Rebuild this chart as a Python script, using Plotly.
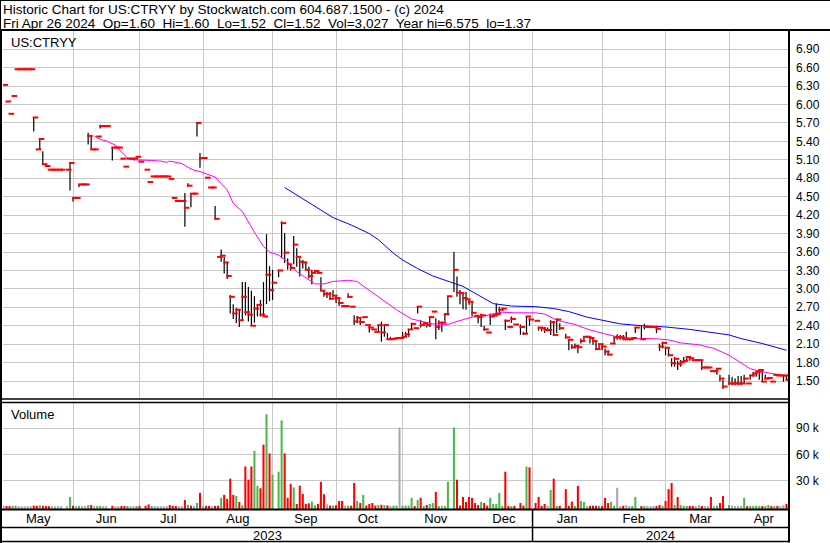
import pandas as pd
import plotly.graph_objects as go

# ---------------- data ----------------
holidays = ["2023-05-29", "2023-06-19", "2023-07-04", "2023-09-04", "2023-11-23",
            "2023-12-25", "2024-01-01", "2024-01-15", "2024-02-19", "2024-03-29"]
trade_days = [d for d in pd.bdate_range("2023-05-01", "2024-04-26")
              if d.strftime("%Y-%m-%d") not in holidays]

close = [
    # May 2023
    6.32, 6.05, 5.85, 6.14, 6.575, 6.575, 6.575, 6.575, 6.575, 6.575, 5.79, 5.27, 5.44, 5.03, 5.00,
    4.94, 4.94, 4.94, 4.94, 4.94, 4.94, 5.05,
    # Jun
    4.48, 4.48, 4.70, 4.70, 4.70, 5.49, 5.27, 5.27, 5.48, 5.65, 5.65, 5.65, 5.30, 5.30, 5.30, 5.12,
    4.99, 5.12, 5.12, 5.12, 5.15,
    # Jul
    5.07, 4.94, 4.74, 4.83, 4.83, 4.83, 4.83, 4.83, 4.83, 4.79, 4.48, 4.43, 4.43, 4.43, 4.32, 4.68,
    4.55, 4.55, 5.70, 5.13,
    # Aug
    5.13, 4.81, 4.65, 4.65, 4.14, 3.52, 3.54, 3.43, 3.21, 2.87, 2.60, 2.66, 2.49, 2.87, 2.62, 2.58,
    2.40, 2.68, 2.74, 2.58, 2.55, 3.23, 2.98,
    # Sep
    3.10, 3.30, 4.07, 3.59, 3.40, 3.34, 3.72, 3.52, 3.44, 3.43, 3.31, 3.21, 3.26, 3.29, 3.26, 2.97,
    2.92, 2.92, 2.84, 2.89,
    # Oct
    2.85, 2.77, 2.72, 2.72, 2.87, 2.71, 2.47, 2.53, 2.46, 2.54, 2.41, 2.37, 2.34, 2.30, 2.41, 2.29,
    2.41, 2.18, 2.18, 2.19, 2.20, 2.20,
    # Nov
    2.22, 2.26, 2.34, 2.43, 2.36, 2.71, 2.41, 2.44, 2.41, 2.54, 2.63, 2.38, 2.45, 2.45, 2.59, 2.88,
    3.31, 2.94, 2.93, 2.85, 2.83,
    # Dec
    2.79, 2.61, 2.56, 2.54, 2.57, 2.34, 2.29, 2.55, 2.57, 2.59, 2.66, 2.68, 2.48, 2.38, 2.51, 2.42,
    2.38, 2.27, 2.55, 2.50,
    # Jan 2024
    2.48, 2.37, 2.36, 2.33, 2.33, 2.46, 2.25, 2.50, 2.36, 2.21, 2.17, 2.05, 2.07, 2.05, 2.15, 2.22,
    2.22, 2.20, 2.15, 2.02, 2.10,
    # Feb
    2.06, 1.98, 1.93, 2.11, 2.21, 2.21, 2.21, 2.18, 2.18, 2.18, 2.20, 2.37, 2.18, 2.38, 2.38, 2.38,
    2.38, 2.35, 2.06, 2.12,
    # Mar
    2.04, 1.92, 1.79, 1.86, 1.78, 1.81, 1.83, 1.89, 1.87, 1.84, 1.84, 1.84, 1.72, 1.72, 1.72, 1.66,
    1.66, 1.70, 1.54, 1.41,
    # Apr
    1.46, 1.46, 1.46, 1.46, 1.46, 1.54, 1.46, 1.59, 1.62, 1.65, 1.68, 1.49, 1.54, 1.55, 1.49, 1.60,
    1.59, 1.59, 1.59, 1.52,
]

high = [
    # May 2023
    6.32, 6.05, 5.85, 6.14, 6.575, 6.575, 6.575, 6.575, 6.575, 6.575, 5.79, 5.27, 5.45, 5.24, 5.00,
    4.94, 4.94, 4.94, 4.94, 4.94, 4.94, 5.05,
    # Jun
    4.48, 4.48, 4.70, 4.70, 4.70, 5.54, 5.49, 5.27, 5.48, 5.67, 5.65, 5.65, 5.30, 5.30, 5.30, 5.12,
    4.99, 5.12, 5.12, 5.12, 5.15,
    # Jul
    5.07, 4.94, 4.74, 4.83, 4.83, 4.83, 4.83, 4.83, 4.83, 4.79, 4.48, 4.43, 4.43, 4.43, 4.56, 4.72,
    4.55, 4.55, 5.70, 5.21,
    # Aug
    5.13, 4.81, 4.65, 4.65, 4.35, 3.52, 3.64, 3.52, 3.43, 2.90, 2.75, 2.69, 2.67, 3.11, 3.11, 3.03,
    2.97, 2.88, 2.74, 2.82, 3.11, 3.89, 3.37,
    # Sep
    3.31, 3.31, 4.10, 3.91, 3.50, 3.40, 3.86, 3.66, 3.50, 3.47, 3.44, 3.36, 3.31, 3.31, 3.26, 3.19,
    2.98, 2.95, 2.95, 2.98,
    # Oct
    2.89, 2.85, 2.72, 2.72, 2.93, 2.71, 2.57, 2.56, 2.52, 2.54, 2.41, 2.41, 2.34, 2.30, 2.41, 2.47,
    2.41, 2.28, 2.22, 2.19, 2.20, 2.20,
    # Nov
    2.30, 2.30, 2.34, 2.45, 2.36, 2.71, 2.49, 2.44, 2.44, 2.54, 2.63, 2.52, 2.49, 2.45, 2.59, 2.88,
    3.60, 3.20, 2.98, 2.95, 2.95,
    # Dec
    2.83, 2.78, 2.56, 2.58, 2.60, 2.40, 2.29, 2.60, 2.60, 2.76, 2.71, 2.68, 2.50, 2.38, 2.55, 2.42,
    2.42, 2.30, 2.55, 2.53,
    # Jan 2024
    2.48, 2.38, 2.38, 2.38, 2.37, 2.49, 2.47, 2.52, 2.44, 2.27, 2.17, 2.10, 2.11, 2.09, 2.19, 2.22,
    2.22, 2.22, 2.19, 2.15, 2.11,
    # Feb
    2.09, 2.03, 2.00, 2.11, 2.21, 2.26, 2.25, 2.25, 2.30, 2.18, 2.20, 2.38, 2.40, 2.43, 2.38, 2.38,
    2.38, 2.40, 2.11, 2.14,
    # Mar
    2.06, 2.02, 1.87, 1.89, 1.83, 1.84, 1.89, 1.90, 1.90, 1.84, 1.84, 1.84, 1.84, 1.72, 1.72, 1.66,
    1.66, 1.71, 1.60, 1.52,
    # Apr
    1.60, 1.57, 1.54, 1.58, 1.58, 1.60, 1.46, 1.60, 1.65, 1.66, 1.68, 1.68, 1.60, 1.55, 1.49, 1.60,
    1.59, 1.59, 1.60, 1.60,
]

low = [
    # May 2023
    6.32, 6.05, 5.85, 6.14, 6.575, 6.575, 6.575, 6.575, 6.575, 6.575, 5.56, 5.27, 5.27, 5.03, 5.00,
    4.94, 4.94, 4.94, 4.94, 4.94, 4.94, 4.60,
    # Jun
    4.42, 4.48, 4.66, 4.70, 4.70, 5.35, 5.27, 5.27, 5.48, 5.61, 5.65, 5.65, 5.09, 5.30, 5.30, 5.12,
    4.99, 5.12, 5.12, 5.12, 5.15,
    # Jul
    5.07, 4.94, 4.74, 4.83, 4.83, 4.83, 4.83, 4.83, 4.83, 4.79, 4.48, 4.43, 4.43, 4.43, 4.01, 4.66,
    4.33, 4.55, 5.48, 4.97,
    # Aug
    5.13, 4.81, 4.65, 4.65, 4.14, 3.52, 3.44, 3.25, 3.16, 2.60, 2.51, 2.44, 2.38, 2.49, 2.57, 2.47,
    2.40, 2.45, 2.55, 2.55, 2.55, 2.75, 2.80,
    # Sep
    2.82, 3.19, 3.50, 3.42, 3.31, 3.30, 3.40, 3.36, 3.20, 3.33, 3.31, 3.17, 3.07, 3.26, 3.26, 2.97,
    2.87, 2.85, 2.82, 2.86,
    # Oct
    2.77, 2.72, 2.72, 2.72, 2.86, 2.71, 2.41, 2.44, 2.41, 2.54, 2.41, 2.29, 2.34, 2.30, 2.30, 2.14,
    2.22, 2.18, 2.18, 2.19, 2.20, 2.20,
    # Nov
    2.20, 2.22, 2.22, 2.33, 2.36, 2.60, 2.37, 2.44, 2.37, 2.38, 2.63, 2.18, 2.33, 2.30, 2.47, 2.57,
    2.95, 2.87, 2.75, 2.67, 2.66,
    # Dec
    2.74, 2.55, 2.56, 2.44, 2.38, 2.32, 2.29, 2.41, 2.55, 2.55, 2.60, 2.68, 2.33, 2.38, 2.45, 2.42,
    2.25, 2.25, 2.27, 2.40,
    # Jan 2024
    2.48, 2.32, 2.31, 2.28, 2.31, 2.25, 2.25, 2.28, 2.33, 2.19, 2.00, 2.02, 2.03, 1.95, 2.11, 2.14,
    2.22, 2.11, 2.09, 2.00, 2.03,
    # Feb
    2.00, 1.92, 1.92, 2.11, 2.11, 2.17, 2.17, 2.18, 2.18, 2.18, 2.20, 2.28, 2.18, 2.34, 2.38, 2.38,
    2.38, 2.28, 1.99, 2.03,
    # Mar
    1.92, 1.90, 1.73, 1.73, 1.68, 1.73, 1.79, 1.81, 1.83, 1.84, 1.84, 1.84, 1.68, 1.72, 1.72, 1.66,
    1.66, 1.60, 1.49, 1.37,
    # Apr
    1.43, 1.43, 1.43, 1.43, 1.43, 1.45, 1.46, 1.52, 1.57, 1.57, 1.52, 1.49, 1.52, 1.55, 1.49, 1.60,
    1.59, 1.59, 1.49, 1.52,
]

volume = [
    # May 2023
    800, 600, 500, 700, 900, 300, 300, 300, 300, 300, 1000, 800, 1500, 800, 600,
    400, 400, 400, 400, 400, 500, 11000,
    # Jun
    800, 500, 600, 400, 400, 1500, 1800, 500, 700, 800, 400, 400, 800, 400, 400, 500,
    500, 600, 400, 400, 500,
    # Jul
    500, 700, 2400, 500, 400, 400, 400, 400, 400, 1700, 600, 500, 400, 400, 7500, 2000,
    1000, 400, 4000, 15700,
    # Aug
    500, 600, 600, 400, 800, 900, 10000, 13400, 8700, 32000, 13400, 12200, 5200, 1500, 46000, 30800,
    46000, 64000, 23800, 21000, 71000, 106000, 61000,
    # Sep
    36600, 40000, 99000, 61000, 10000, 26000, 22000, 2900, 24000, 14500, 2900, 3700, 5600, 1400, 2900, 28400,
    14100, 2500, 1000, 1000,
    # Oct
    1500, 6400, 6400, 800, 1000, 800, 27000, 6400, 4000, 13400, 1000, 2900, 4000, 1000, 1700, 2000,
    1500, 1200, 800, 900, 1000, 90700,
    # Nov
    1000, 1000, 1000, 10000, 500, 7500, 10000, 600, 1700, 2900, 4000, 16800, 500, 1000, 500, 28400,
    90700, 30800, 1000, 11000, 5200,
    # Dec
    11000, 10000, 4000, 1700, 5200, 4000, 1000, 10000, 2900, 2900, 15700, 500, 40000, 500, 500, 700,
    4000, 1000, 46000, 45000,
    # Jan 2024
    4000, 11000, 700, 2900, 700, 19000, 32000, 700, 700, 20000, 700, 5600, 700, 23800, 6400, 5200,
    700, 700, 1000, 800, 700,
    # Feb
    500, 10000, 4000, 5200, 800, 21500, 500, 700, 1700, 500, 500, 11000, 500, 800, 500, 500,
    500, 500, 1700, 800,
    # Mar
    6400, 20000, 27000, 1700, 11000, 1700, 700, 700, 700, 500, 400, 1700, 700, 500, 500, 11000,
    400, 1000, 4000, 12000,
    # Apr
    1700, 1000, 400, 700, 700, 10000, 400, 700, 700, 1000, 400, 500, 500, 1700, 400, 400,
    700, 400, 1700, 3027,
]

ma_short_dates = [
    "2023-06-12", "2023-06-14", "2023-06-16", "2023-06-21", "2023-06-23", "2023-06-27", "2023-06-29",
    "2023-07-05", "2023-07-07", "2023-07-12", "2023-07-14", "2023-07-17", "2023-07-21", "2023-07-25",
    "2023-07-27", "2023-07-31", "2023-08-02", "2023-08-07", "2023-08-11", "2023-08-15", "2023-08-18",
    "2023-08-21", "2023-08-24", "2023-08-29", "2023-08-31", "2023-09-05", "2023-09-08", "2023-09-13",
    "2023-09-19", "2023-09-21", "2023-09-26", "2023-09-29", "2023-10-06", "2023-10-11", "2023-10-16",
    "2023-10-20", "2023-10-25", "2023-10-30", "2023-11-06", "2023-11-09", "2023-11-15", "2023-11-22",
    "2023-11-27", "2023-12-04", "2023-12-08", "2023-12-18", "2023-12-22", "2024-01-02", "2024-01-05",
    "2024-01-11", "2024-01-19", "2024-01-26", "2024-02-02", "2024-02-07", "2024-02-16", "2024-02-26",
    "2024-03-04", "2024-03-08", "2024-03-18", "2024-03-25", "2024-04-01", "2024-04-05", "2024-04-10",
    "2024-04-16", "2024-04-22", "2024-04-26",
]
ma_short = [
    5.49, 5.43, 5.41, 5.34, 5.23, 5.13, 5.10,
    5.10, 5.09, 5.08, 5.06, 5.08, 5.04, 4.98,
    4.93, 4.91, 4.87, 4.82, 4.61, 4.39, 4.26,
    4.17, 3.92, 3.69, 3.60, 3.55, 3.44, 3.28,
    3.14, 3.08, 3.08, 3.12, 3.14, 3.12, 3.01,
    2.87, 2.76, 2.66, 2.51, 2.48, 2.43, 2.42,
    2.47, 2.54, 2.56, 2.62, 2.61, 2.61, 2.59,
    2.49, 2.42, 2.33, 2.27, 2.23, 2.19, 2.19,
    2.17, 2.12, 2.09, 2.03, 1.92, 1.79, 1.70,
    1.65, 1.61, 1.58,
]

ma_long_dates = [
    "2023-09-07", "2023-09-14", "2023-09-22", "2023-09-29", "2023-10-09", "2023-10-17", "2023-10-20",
    "2023-10-27", "2023-11-01", "2023-11-08", "2023-11-15", "2023-11-24", "2023-11-29", "2023-12-06",
    "2023-12-13", "2023-12-21", "2024-01-02", "2024-01-10", "2024-01-17", "2024-01-25", "2024-02-02",
    "2024-02-09", "2024-02-20", "2024-03-01", "2024-03-13", "2024-03-21", "2024-04-01", "2024-04-05",
    "2024-04-16", "2024-04-26",
]
ma_long = [
    4.65, 4.50, 4.31, 4.16, 4.04, 3.90, 3.80,
    3.58, 3.47, 3.33, 3.21, 3.09, 3.04, 2.90,
    2.76, 2.72, 2.71, 2.68, 2.63, 2.54, 2.48,
    2.43, 2.40, 2.38, 2.34, 2.30, 2.25, 2.19,
    2.11, 2.00,
]

vol_tick_vals = [30000, 60000, 90000]
vol_tick_text = ["30 k", "60 k", "90 k"]

header1 = "Historic Chart for US:CTRYY by Stockwatch.com 604.687.1500 - (c) 2024"
header2 = ("Fri Apr 26 2024\u00a0 Op=1.60\u00a0 Hi=1.60\u00a0 Lo=1.52\u00a0 Cl=1.52\u00a0 "
           "Vol=3,027\u00a0 Year hi=6.575\u00a0 lo=1.37")
year_labels = ["2023", "2024"]

# ---------------- figure ----------------
W, H = 830, 543
def px(x): return x / W
def py(y): return 1 - y / H

FONT = "Arial, Liberation Sans, sans-serif"
GRID = "#c8c8c8"
RED, GREEN, GRAY = "#ff0000", "#4cb84c", "#a8a8a8"

vol_colors = []
prev = None
for c in close:
    if prev is None or c == prev:
        vol_colors.append(GRAY)
    elif c > prev:
        vol_colors.append(GREEN)
    else:
        vol_colors.append(RED)
    prev = c

VOL_BASE = -2874
tick_shift = pd.Timedelta(hours=14)

fig = go.Figure()
fig.add_trace(go.Scatter(x=ma_short_dates, y=ma_short, mode="lines",
                         line=dict(color="#ff00ff", width=1), hoverinfo="skip"))
fig.add_trace(go.Scatter(x=ma_long_dates, y=ma_long, mode="lines",
                         line=dict(color="#0000ff", width=1), hoverinfo="skip"))
fig.add_trace(go.Ohlc(x=trade_days, open=close, high=high, low=low, close=close,
                      increasing=dict(line=dict(color="black", width=1.2)),
                      decreasing=dict(line=dict(color="black", width=1.2)),
                      tickwidth=0, hoverinfo="skip"))
fig.add_trace(go.Scatter(x=[d + tick_shift for d in trade_days], y=close, mode="markers",
                         marker=dict(symbol="line-ew", size=4,
                                     line=dict(color=RED, width=2)),
                         hoverinfo="skip"))
fig.add_trace(go.Bar(x=trade_days, y=[v - VOL_BASE for v in volume], base=VOL_BASE,
                     marker=dict(color=vol_colors, line=dict(width=0)),
                     xaxis="x2", yaxis="y2", hoverinfo="skip"))

xrange_ = ["2023-04-28 20:00", "2024-04-26 20:00"]
rb = [dict(bounds=["sat", "mon"])]
xdom = [px(3), px(789)]

shapes = []
def hline(y, x0, x1, w):
    shapes.append(dict(type="line", xref="paper", yref="paper", x0=px(x0), x1=px(x1),
                       y0=py(y), y1=py(y), line=dict(color="black", width=w), layer="above"))
def vline(x, y0, y1, w):
    shapes.append(dict(type="line", xref="paper", yref="paper", x0=px(x), x1=px(x),
                       y0=py(y0), y1=py(y1), line=dict(color="black", width=w), layer="above"))

hline(0.5, 0, 830, 1)
vline(0.5, 0, 30, 1)
hline(30, 0, 830, 2)
vline(1, 30, 543, 2)
vline(789, 30, 542.5, 2)
hline(399, 0, 789, 1.5)
hline(402.5, 0, 789, 1.5)
hline(509.5, 0, 789, 2)
hline(527.5, 0, 789, 1.5)
hline(541.5, 0, 789, 1.5)
shapes.append(dict(type="line", xref="x2", yref="paper", x0="2024-01-01", x1="2024-01-01",
                   y0=py(510), y1=py(541.5), line=dict(color="black", width=1.5), layer="above"))

annotations = [
    dict(text=header1, xref="paper", yref="paper", x=px(1), y=py(10), xanchor="left",
         yanchor="middle", showarrow=False, font=dict(size=13.5, family=FONT, color="black")),
    dict(text=header2, xref="paper", yref="paper", x=px(1), y=py(23.5), xanchor="left",
         yanchor="middle", showarrow=False, font=dict(size=13.5, family=FONT, color="black")),
    dict(text="US:CTRYY", xref="paper", yref="paper", x=px(9), y=py(42), xanchor="left",
         yanchor="middle", showarrow=False, font=dict(size=13, family=FONT, color="black")),
    dict(text="Volume", xref="paper", yref="paper", x=px(9), y=py(414.5), xanchor="left",
         yanchor="middle", showarrow=False, font=dict(size=13, family=FONT, color="black")),
    dict(text=year_labels[0], xref="paper", yref="paper", x=px(267), y=py(535), xanchor="center",
         yanchor="middle", showarrow=False, font=dict(size=13, family=FONT, color="black")),
    dict(text=year_labels[1], xref="paper", yref="paper", x=px(660), y=py(535), xanchor="center",
         yanchor="middle", showarrow=False, font=dict(size=13, family=FONT, color="black")),
]

fig.update_layout(
    width=W, height=H, autosize=False,
    margin=dict(l=0, r=0, t=0, b=0, pad=0),
    paper_bgcolor="white", plot_bgcolor="white",
    showlegend=False, bargap=0.32,
    font=dict(family=FONT, color="black", size=12),
    xaxis=dict(domain=xdom, anchor="y", type="date", range=xrange_, rangebreaks=rb,
               matches="x2", showticklabels=False, ticks="", showgrid=True, gridcolor=GRID,
               gridwidth=1, dtick="M1", tick0="2023-05-01", zeroline=False, showline=False,
               rangeslider=dict(visible=False)),
    yaxis=dict(domain=[py(398), py(31)], anchor="x", side="right", range=[1.2233, 7.1975],
               tick0=1.5, dtick=0.3, tickformat=".2f", showgrid=True, gridcolor=GRID,
               gridwidth=1, ticks="", zeroline=False, showline=False, ticklabelstandoff=6,
               tickfont=dict(size=12, family=FONT, color="black")),
    xaxis2=dict(domain=xdom, anchor="y2", type="date", range=xrange_, rangebreaks=rb,
                ticklabelmode="period", dtick="M1", tick0="2023-05-01", tickformat="%b",
                showgrid=True, gridcolor=GRID, gridwidth=1, ticks="", zeroline=False,
                showline=False, tickfont=dict(size=13, family=FONT, color="black")),
    yaxis2=dict(domain=[py(509), py(403)], anchor="x2", side="right", range=[VOL_BASE, 118966],
                tickvals=vol_tick_vals, ticktext=vol_tick_text, showgrid=True, gridcolor=GRID,
                gridwidth=1, ticks="", zeroline=False, showline=False, ticklabelstandoff=6,
                tickfont=dict(size=12, family=FONT, color="black")),
    shapes=shapes,
    annotations=annotations,
)

fig.write_html("out.html", config={"displayModeBar": False, "staticPlot": True},
               post_script="document.body.style.margin='0';document.body.style.overflow='hidden';")
